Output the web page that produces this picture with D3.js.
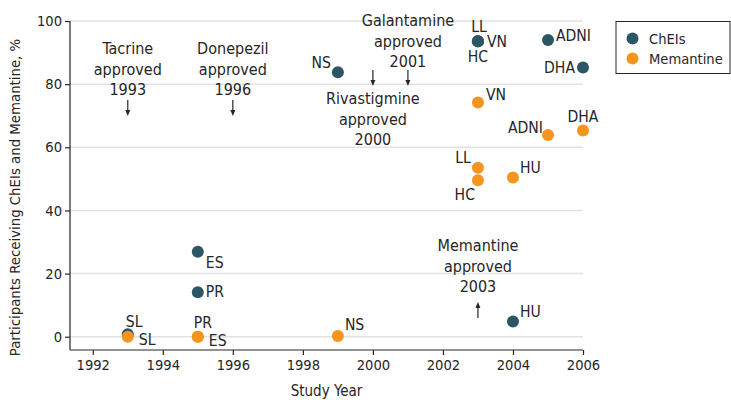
<!DOCTYPE html>
<html>
<head>
<meta charset="utf-8">
<script src="https://cdn.jsdelivr.net/npm/d3@7"></script>
<style>
	body { margin: 0; background: #fff; }
	text { font-family: "DejaVu Sans Condensed", "DejaVu Sans", sans-serif; fill: #262626; }
</style>
</head>
<body>
<svg id="chart" width="731" height="400"></svg>
<script>

// study data
const studies = ["SL", "ES", "PR", "NS", "LL", "VN", "HC", "HU", "ADNI", "DHA"];
const studyYears = [1993, 1995, 1995, 1999, 2003, 2003, 2003, 2004, 2005, 2006];
const cheiValues = [0.8, 26.9, 14.1, 83.8, 93.6, 93.6, 93.6, 4.8, 94.0, 85.3];
const memantineValues = [0, 0, 0, 0.2, 53.5, 74.2, 49.6, 50.4, 63.9, 65.3];

// approvals
const approvalDrugs = ["Tacrine", "Donepezil", "Rivastigmine", "Galantamine", "Memantine"];
const approvalYears = [1993, 1996, 2000, 2001, 2003];

const xTicks = [1992, 1994, 1996, 1998, 2000, 2002, 2004, 2006];
const yTicks = [0, 20, 40, 60, 80, 100];

const seriesNames = ["ChEIs", "Memantine"];
const colors = { "ChEIs": "#2c5566", "Memantine": "#f7941e" };

// label placement: [dx, dy, anchor]
const cheiLabelPos = {
	SL: [-2, -7, "start"], ES: [8, 16, "start"], PR: [8, 5, "start"], NS: [-7, -4, "end"],
	LL: [1, -9, "middle"], VN: [9, 6, "start"], HC: [0, 21, "middle"], HU: [7, -5, "start"],
	ADNI: [8, 1, "start"], DHA: [-8, 6, "end"]
};
const memLabelPos = {
	SL: [11, 8, "start"], ES: [11, 9, "start"], PR: [-4, -9, "start"], NS: [7, -6, "start"],
	LL: [-7, -5, "end"], VN: [8, -2, "start"], HC: [-3, 20, "end"], HU: [7, -5, "start"],
	ADNI: [-5, -2, "end"], DHA: [0, -9, "middle"]
};

// annotation placement: first baseline, arrow tail, arrow tip (pixels)
const approvalPos = {
	Tacrine: [54, 100, 116], Donepezil: [54, 100, 116],
	Rivastigmine: [104, 70, 86], Galantamine: [26, 70, 86],
	Memantine: [251, 318, 302]
};

const LEFT = 70, RIGHT = 583, TOP = 21, BOTTOM = 350;
const FONT = 14.6, NOTE_FONT = 16, LABEL_FONT = 15.6;

let svg = d3.select("svg#chart");

let x = d3.scaleLinear().domain([1991.35, 2006]).range([LEFT, RIGHT]);
let y = d3.scaleLinear().domain([-4.2, 100]).range([BOTTOM, TOP]);

// gridlines
svg.append("g")
	.selectAll("line")
	.data(yTicks)
	.join("line")
	.attr("x1", LEFT)
	.attr("x2", RIGHT)
	.attr("y1", d => y(d))
	.attr("y2", d => y(d))
	.attr("stroke", "#e2e2e2")
	.attr("stroke-width", 1.5)
	;

// axes
let yAxis = svg.append("g")
	.attr("transform", `translate(${LEFT},0)`)
	.call(d3.axisLeft(y).tickValues(yTicks).tickSize(5).tickPadding(3).tickSizeOuter(0));
let xAxis = svg.append("g")
	.attr("transform", `translate(0,${BOTTOM})`)
	.call(d3.axisBottom(x).tickValues(xTicks).tickFormat(d3.format("d")).tickSize(5).tickPadding(5).tickSizeOuter(0));

[yAxis, xAxis].forEach(a => {
	a.select(".domain").attr("stroke", "#262626").attr("stroke-width", 1.2);
	a.selectAll(".tick line").attr("stroke", "#262626").attr("stroke-width", 1.2);
	a.selectAll(".tick text")
		.style("font-family", '"DejaVu Sans Condensed", "DejaVu Sans", sans-serif')
		.style("font-size", FONT + "px")
		.attr("fill", "#262626");
});
yAxis.select(".domain").attr("d", `M0,${TOP}V${BOTTOM}`);
xAxis.select(".domain").attr("d", `M${LEFT},0H${RIGHT}`);

// axis titles
svg.append("text")
	.text("Study Year")
	.attr("x", (LEFT + RIGHT) / 2)
	.attr("y", 396)
	.attr("text-anchor", "middle")
	.style("font-size", "15px")
	;
svg.append("text")
	.text("Participants Receiving ChEIs and Memantine, %")
	.attr("transform", `translate(20,${(TOP + BOTTOM) / 2 + 12}) rotate(-90)`)
	.attr("text-anchor", "middle")
	.style("font-size", "14.8px")
	;

// approval annotations
approvalDrugs.forEach((drug, i) => {
	let p = approvalPos[drug];
	let cx = x(approvalYears[i]);
	let lines = [drug, "approved", String(approvalYears[i])];
	svg.append("text")
		.attr("text-anchor", "middle")
		.style("font-size", NOTE_FONT + "px")
		.selectAll("tspan")
		.data(lines)
		.join("tspan")
		.attr("x", cx)
		.attr("y", (d, k) => p[0] + k * 20.7)
		.text(d => d)
		;
	let dir = p[2] > p[1] ? 1 : -1;
	svg.append("line")
		.attr("x1", cx).attr("x2", cx)
		.attr("y1", p[1]).attr("y2", p[2] - dir * 5)
		.attr("stroke", "#262626")
		.attr("stroke-width", 1.2)
		;
	svg.append("path")
		.attr("d", `M${cx - 2.5},${p[2] - dir * 6}L${cx + 2.5},${p[2] - dir * 6}L${cx},${p[2]}Z`)
		.attr("fill", "#262626")
		;
});

// points: ChEIs drawn first, memantine on top
let series = [
	{ name: "ChEIs", values: cheiValues, pos: cheiLabelPos },
	{ name: "Memantine", values: memantineValues, pos: memLabelPos }
];

series.forEach(s => {
	svg.append("g")
		.selectAll("circle")
		.data(studies)
		.join("circle")
		.attr("cx", (d, i) => x(studyYears[i]))
		.attr("cy", (d, i) => y(s.values[i]))
		.attr("r", 6)
		.attr("fill", colors[s.name])
		;
});

series.forEach(s => {
	svg.append("g")
		.selectAll("text")
		.data(studies)
		.join("text")
		.text(d => d)
		.attr("x", (d, i) => x(studyYears[i]) + s.pos[d][0])
		.attr("y", (d, i) => y(s.values[i]) + s.pos[d][1])
		.attr("text-anchor", d => s.pos[d][2])
		.style("font-size", LABEL_FONT + "px")
		;
});

// legend
let legend = svg.append("g");
legend.append("rect")
	.attr("x", 616)
	.attr("y", 21.5)
	.attr("width", 114)
	.attr("height", 52)
	.attr("fill", "none")
	.attr("stroke", "#262626")
	.attr("stroke-width", 1)
	;
seriesNames.forEach((name, i) => {
	legend.append("circle")
		.attr("cx", 632.5)
		.attr("cy", 38.5 + i * 20)
		.attr("r", 6)
		.attr("fill", colors[name])
		;
	legend.append("text")
		.text(name)
		.attr("x", 649)
		.attr("y", 44 + i * 20)
		.style("font-size", FONT + "px")
		;
});

</script>
</body>
</html>
